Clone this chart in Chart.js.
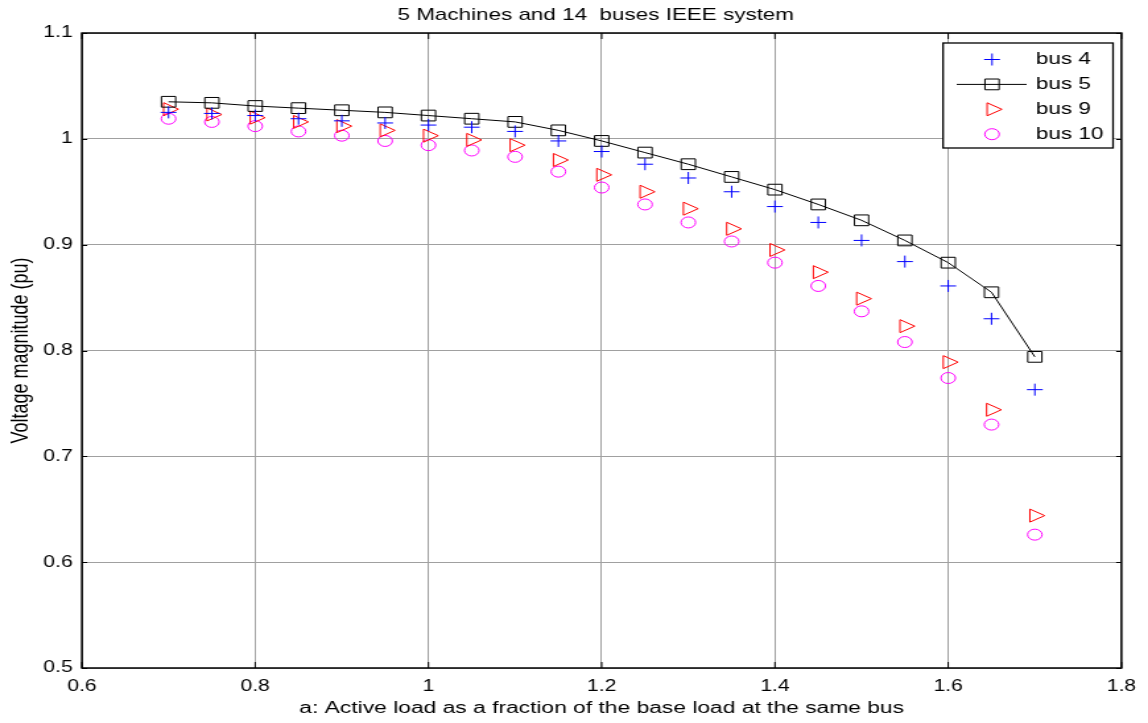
<!DOCTYPE html>
<html>
<head>
<meta charset="utf-8">
<title>Voltage magnitude vs active load</title>
<script src="https://cdn.jsdelivr.net/npm/chart.js@4/dist/chart.umd.min.js"></script>
<style>
  html, body { margin: 0; padding: 0; background: #fff; overflow: hidden; }
  /* the figure is drawn narrow and stretched sideways, like the exported plot */
  #wrap { width: 870px; height: 723px; transform: scaleX(1.31954); transform-origin: 0 0; }
</style>
</head>
<body>
<div id="wrap"><canvas id="chart"></canvas></div>
<script>
const loadFactor = [0.7, 0.75, 0.8, 0.85, 0.9, 0.95, 1.0, 1.05, 1.1, 1.15, 1.2,
                    1.25, 1.3, 1.35, 1.4, 1.45, 1.5, 1.55, 1.6, 1.65, 1.7];

const bus4  = [1.025, 1.024, 1.022, 1.019, 1.017, 1.015, 1.013, 1.011, 1.007, 0.998, 0.988,
               0.976, 0.963, 0.950, 0.936, 0.921, 0.904, 0.884, 0.861, 0.830, 0.763];
const bus5  = [1.035, 1.034, 1.031, 1.029, 1.027, 1.025, 1.022, 1.019, 1.016, 1.008, 0.998,
               0.987, 0.976, 0.964, 0.952, 0.938, 0.923, 0.904, 0.883, 0.855, 0.794];
const bus9  = [1.028, 1.023, 1.020, 1.016, 1.012, 1.008, 1.003, 0.999, 0.994, 0.980, 0.966,
               0.950, 0.934, 0.915, 0.895, 0.874, 0.849, 0.823, 0.789, 0.744, 0.644];
const bus10 = [1.019, 1.016, 1.012, 1.007, 1.003, 0.998, 0.994, 0.989, 0.983, 0.969, 0.954,
               0.938, 0.921, 0.903, 0.883, 0.861, 0.837, 0.808, 0.774, 0.730, 0.626];

const xTicks = [0.6, 0.8, 1.0, 1.2, 1.4, 1.6, 1.8];
const yTicks = [0.5, 0.6, 0.7, 0.8, 0.9, 1.0, 1.1];

const chartTitle = '5 Machines and 14  buses IEEE system';

const FONT = '"Liberation Sans", Arial, Helvetica, sans-serif';

const toPoints = (ys) => loadFactor.map((x, i) => ({ x: x, y: ys[i] }));

// title centred over the axes rather than the whole canvas
const axesTitle = {
    id: 'axesTitle',
    afterDraw(chart) {
        const { ctx, chartArea: a } = chart;
        ctx.save();
        ctx.fillStyle = '#000';
        ctx.font = '17px ' + FONT;
        ctx.textAlign = 'center';
        ctx.textBaseline = 'middle';
        ctx.fillText(chartTitle, (a.left + a.right) / 2 - 4.5, 15);
        ctx.restore();
    }
};

// inward ticks and the box around the axes
const axesBox = {
    id: 'axesBox',
    afterDatasetsDraw(chart) {
        const { ctx, chartArea: a, scales: { x, y } } = chart;
        ctx.save();
        ctx.strokeStyle = '#000';
        ctx.lineWidth = 1;
        ctx.beginPath();
        xTicks.forEach(v => {
            const px = x.getPixelForValue(v);
            ctx.moveTo(px, a.bottom); ctx.lineTo(px, a.bottom - 6);
            ctx.moveTo(px, a.top); ctx.lineTo(px, a.top + 6);
        });
        yTicks.forEach(v => {
            const py = Math.round(y.getPixelForValue(v)) + 0.5;
            ctx.moveTo(a.left, py); ctx.lineTo(a.left + 4, py);
            ctx.moveTo(a.right, py); ctx.lineTo(a.right - 4, py);
        });
        ctx.stroke();
        ctx.lineWidth = 1.5;
        ctx.strokeRect(a.left, a.top, a.right - a.left, a.bottom - a.top);
        ctx.restore();
    }
};

// legend box in the upper right corner of the axes
const boxLegend = {
    id: 'boxLegend',
    afterDraw(chart) {
        const { ctx } = chart;
        const left = 714.7, top = 43, width = 128.8, height = 105;
        ctx.save();
        ctx.fillStyle = '#fff';
        ctx.fillRect(left, top, width, height);
        ctx.strokeStyle = '#000';
        ctx.lineWidth = 1.3;
        ctx.strokeRect(left, top, width, height);

        chart.data.datasets.forEach((ds, i) => {
            const rowY = top + 16.5 + i * 24.9;
            if (ds.showLine) {
                ctx.strokeStyle = ds.borderColor;
                ctx.lineWidth = ds.borderWidth;
                ctx.beginPath();
                ctx.moveTo(left + 10.3, rowY);
                ctx.lineTo(left + 63.3, rowY);
                ctx.stroke();
            }
            ctx.strokeStyle = ds.pointBorderColor;
            ctx.fillStyle = 'rgba(0,0,0,0)';
            ctx.lineWidth = ds.pointBorderWidth;
            Chart.helpers.drawPoint(ctx, {
                pointStyle: ds.pointStyle,
                rotation: ds.pointRotation || 0,
                radius: ds.pointRadius,
                borderWidth: ds.pointBorderWidth
            }, left + 37.1, rowY);

            ctx.fillStyle = '#000';
            ctx.font = '17px ' + FONT;
            ctx.textAlign = 'left';
            ctx.textBaseline = 'middle';
            ctx.fillText(ds.label, left + 70.4, rowY);
        });
        ctx.restore();
    }
};

const markerSeries = (label, ys, color, style, radius, extra) => Object.assign({
    label: label,
    data: toPoints(ys),
    showLine: false,
    pointStyle: style,
    pointRadius: radius,
    pointHoverRadius: radius,
    pointBorderColor: color,
    pointBackgroundColor: 'rgba(0,0,0,0)',
    pointBorderWidth: 1,
    borderColor: color,
    borderWidth: 1
}, extra || {});

const ctx = document.getElementById('chart').getContext('2d');

new Chart(ctx, {
    type: 'scatter',
    data: {
        datasets: [
            markerSeries('bus 4', bus4, '#0000ff', 'cross', 6),
            markerSeries('bus 5', bus5, '#000000', 'rect', 7.6, { showLine: true }),
            markerSeries('bus 9', bus9, '#ff0000', 'triangle', 7.5, { pointRotation: 90 }),
            markerSeries('bus 10', bus10, '#ff00ff', 'circle', 5.5)
        ]
    },
    options: {
        responsive: true,
        maintainAspectRatio: false,
        animation: false,
        layout: { padding: { left: 0, right: 19.7, top: 33, bottom: 0 } },
        plugins: {
            legend: { display: false },
            tooltip: { enabled: false },
            title: { display: false }
        },
        scales: {
            x: {
                type: 'linear',
                min: 0.6,
                max: 1.8,
                afterFit: (scale) => { scale.height = 55; },
                afterBuildTicks: (scale) => { scale.ticks = xTicks.map(v => ({ value: v })); },
                grid: { color: '#a0a0a0', lineWidth: 1, drawTicks: false },
                border: { display: false },
                ticks: {
                    color: '#000',
                    padding: 9,
                    maxRotation: 0,
                    font: { family: FONT, size: 16 },
                    callback: (v) => String(Math.round(v * 10) / 10)
                },
                title: {
                    display: true,
                    text: 'a: Active load as a fraction of the base load at the same bus',
                    color: '#000',
                    font: { family: FONT, size: 17.3 },
                    padding: { top: 0, bottom: 4.6 }
                }
            },
            y: {
                type: 'linear',
                min: 0.5,
                max: 1.1,
                afterFit: (scale) => { scale.width = 62.1; },
                afterBuildTicks: (scale) => { scale.ticks = yTicks.map(v => ({ value: v })); },
                grid: { color: '#a0a0a0', lineWidth: 1, drawTicks: false },
                border: { display: false },
                ticks: {
                    color: '#000',
                    padding: 7,
                    font: { family: FONT, size: 16 },
                    callback: (v) => String(Math.round(v * 10) / 10)
                },
                title: {
                    display: true,
                    text: 'Voltage magnitude (pu)',
                    color: '#000',
                    font: { family: FONT, size: 18 },
                    padding: { top: 5, bottom: 0 }
                }
            }
        }
    },
    plugins: [axesBox, boxLegend, axesTitle]
});
</script>
</body>
</html>
